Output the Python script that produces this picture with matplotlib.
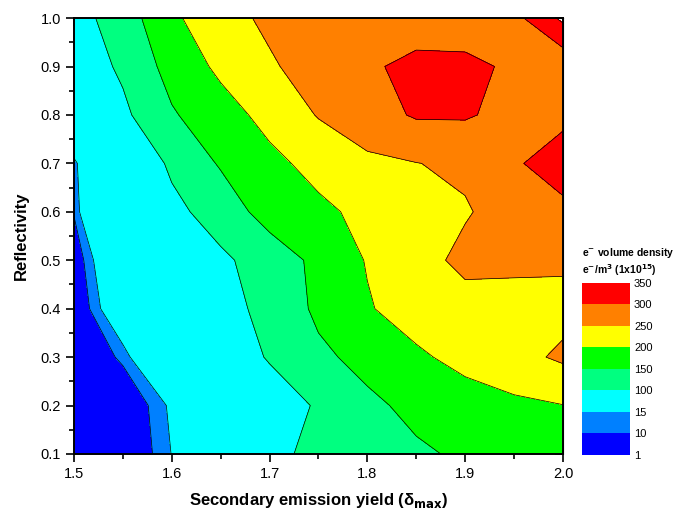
import numpy as np
import matplotlib
matplotlib.use('Agg')
import matplotlib.pyplot as plt

plt.rcParams['font.family'] = ['Liberation Sans', 'DejaVu Sans']

# grid of the map
sey = [1.50, 1.55, 1.60, 1.65, 1.70, 1.75, 1.80, 1.85, 1.90, 1.95, 2.00]
refl = [0.1, 0.2, 0.3, 0.4, 0.5, 0.6, 0.7, 0.8, 0.9, 1.0]

# e- volume density (x 1e15 e-/m3), one row per reflectivity value
dens_01 = [1.5, 2, 15.2, 50, 85, 115, 127, 143, 157, 172, 185]
dens_02 = [1.5, 3, 16.5, 45, 75, 105, 140, 162, 178, 190, 199]
dens_03 = [2, 11.5, 35, 70, 104, 140, 165, 192, 215, 235, 258]
dens_04 = [3, 25, 50, 85, 112, 160, 196, 222, 232, 236, 236]
dens_05 = [5, 30, 60, 92, 120, 163, 203, 232, 262, 258, 257]
dens_06 = [10.5, 50, 88, 120, 172, 190, 212, 230, 246, 270, 290]
dens_07 = [12, 55, 108, 155, 188, 215, 240, 249, 258, 295, 320]
dens_08 = [40, 90, 145, 180, 215, 253, 280, 305, 305, 285, 290]
dens_09 = [70, 108, 168, 210, 245, 268, 290, 318, 315, 290, 262]
dens_10 = [80, 125, 190, 235, 258, 270, 272, 265, 265, 285, 360]

levels = [1, 10, 15, 100, 150, 200, 250, 300, 350]
colors = ['#0000ff', '#0080ff', '#00ffff', '#00ff80', '#00ff00',
          '#ffff00', '#ff8000', '#ff0000']

Z = np.array([dens_01, dens_02, dens_03, dens_04, dens_05,
              dens_06, dens_07, dens_08, dens_09, dens_10])
X, Y = np.meshgrid(sey, refl)

fig = plt.figure(figsize=(6.75, 5.17), dpi=100)
ax = fig.add_axes([0.1096, 0.122, 0.7244, 0.843])

cf = ax.contourf(X, Y, Z, levels=levels, colors=colors)
ax.contour(X, Y, Z, levels=levels, colors='k', linewidths=0.5)

ax.set_xlim(1.5, 2.0)
ax.set_ylim(0.1, 1.0)
ax.set_xticks([1.5, 1.6, 1.7, 1.8, 1.9, 2.0])
ax.set_yticks([0.1, 0.2, 0.3, 0.4, 0.5, 0.6, 0.7, 0.8, 0.9, 1.0])
ax.set_xticks(np.arange(1.55, 2.0, 0.1), minor=True)
ax.set_yticks(np.arange(0.15, 1.0, 0.1), minor=True)
ax.tick_params(which='major', direction='out', length=6, width=1.2, labelsize=10.5)
ax.tick_params(which='minor', direction='out', length=3.5, width=1.2)
for s in ax.spines.values():
    s.set_linewidth(1.4)

# inward ticks on top and right
top = ax.secondary_xaxis('top')
top.set_xticks([1.5, 1.6, 1.7, 1.8, 1.9, 2.0])
top.set_xticks(np.arange(1.55, 2.0, 0.1), minor=True)
top.tick_params(which='major', direction='in', length=6, width=1.2, labeltop=False)
top.tick_params(which='minor', direction='in', length=3.5, width=1.2)
right = ax.secondary_yaxis('right')
right.set_yticks([0.1, 0.2, 0.3, 0.4, 0.5, 0.6, 0.7, 0.8, 0.9, 1.0])
right.set_yticks(np.arange(0.15, 1.0, 0.1), minor=True)
right.tick_params(which='major', direction='in', length=6, width=1.2, labelright=False)
right.tick_params(which='minor', direction='in', length=3.5, width=1.2)

ax.set_xlabel('Secondary emission yield (δ$_{\\mathbf{max}}$)',
              fontsize=12, fontweight='bold', labelpad=7)
ax.set_ylabel('Reflectivity', fontsize=12, fontweight='bold', labelpad=8)

cax = fig.add_axes([0.862, 0.120, 0.071, 0.333])
cb = fig.colorbar(cf, cax=cax, ticks=levels)
cb.outline.set_visible(False)
cb.ax.tick_params(length=0, labelsize=8, pad=3)
cb.ax.set_yticklabels([str(l) for l in levels])
fig.text(0.862, 0.511, r'e$^{\mathbf{-}}$ volume density', fontsize=7.5,
         fontweight='bold', ha='left', va='center')
fig.text(0.862, 0.477, r'e$^{\mathbf{-}}$/m$^{\mathbf{3}}$ (1x10$^{\mathbf{15}}$)',
         fontsize=7.5, fontweight='bold', ha='left', va='center')

fig.savefig('out.png', dpi=100)
